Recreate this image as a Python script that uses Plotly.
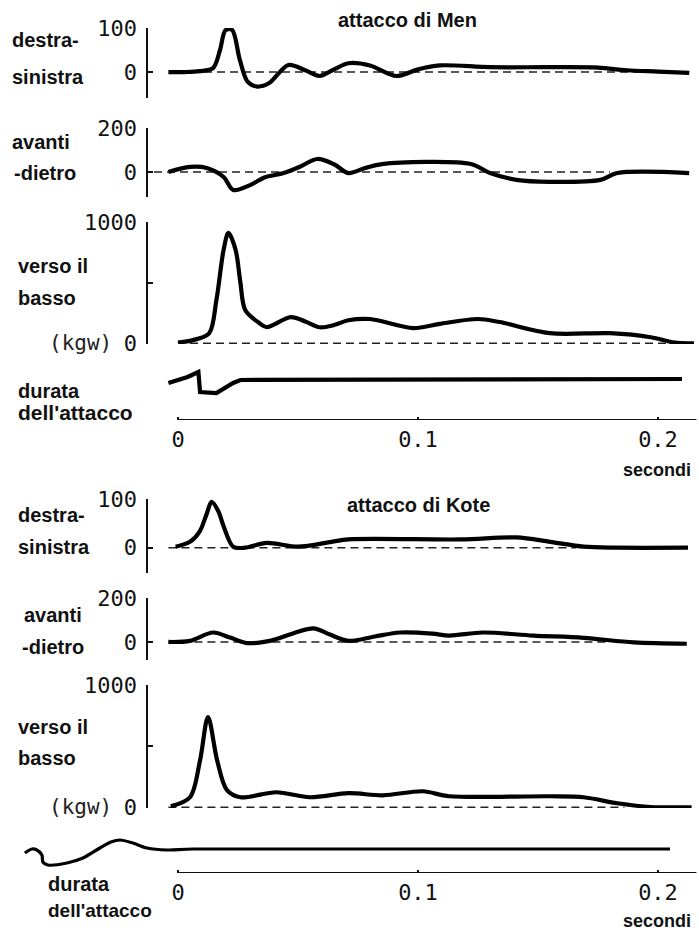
import plotly.graph_objects as go

W, H = 699, 930

# ---------------- data (time in seconds, force in kgw) ----------------
# attacco di Men
men_ds_t = [-0.004, 0.003, 0.009, 0.0146, 0.0175, 0.0198, 0.0225, 0.0258, 0.029, 0.033, 0.038,
            0.046, 0.053, 0.059, 0.065, 0.071, 0.080, 0.091, 0.100, 0.109, 0.130, 0.155, 0.175,
            0.187, 0.200, 0.213]
men_ds_v = [0, 0, 2, 9, 50, 95, 96, 27, -22, -33, -25, 16, 4, -9, 6, 20, 15, -9, 6, 15, 11, 11,
            10, 4, 1, -2]

men_ad_t = [-0.004, 0.005, 0.012, 0.019, 0.023, 0.030, 0.036, 0.044, 0.051, 0.058, 0.065, 0.071,
            0.078, 0.085, 0.122, 0.130, 0.141, 0.155, 0.176, 0.183, 0.213]
men_ad_v = [0, 23, 18, -23, -82, -60, -25, -5, 25, 59, 35, -5, 18, 36, 36, -5, -36, -45, -36, -5, -5]

men_vb_t = [0.000, 0.007, 0.013, 0.016, 0.019, 0.021, 0.024, 0.026, 0.028, 0.034, 0.037, 0.047,
            0.053, 0.059, 0.065, 0.071, 0.080, 0.098, 0.109, 0.125, 0.134, 0.155, 0.180, 0.197,
            0.207, 0.215]
men_vb_v = [5, 30, 83, 355, 770, 910, 770, 500, 275, 165, 133, 215, 180, 132, 150, 190, 200, 125,
            160, 200, 175, 83, 83, 50, 5, 0]

men_dur_t = [-0.004, 0.004, 0.0085, 0.0092, 0.016, 0.023, 0.026, 0.040, 0.210]
men_dur_v = [37, 43, 48, 28, 27, 37, 40, 40, 41]

# attacco di Kote
kote_ds_t = [-0.001, 0.005, 0.009, 0.012, 0.014, 0.0168, 0.019, 0.023, 0.028, 0.037, 0.050,
             0.064, 0.071, 0.118, 0.141, 0.155, 0.169, 0.183, 0.2125]
kote_ds_v = [2, 12, 33, 70, 94, 75, 44, 2, 0, 10, 2, 12, 17, 17, 21, 12, 2, 0, 0]

kote_ad_t = [-0.004, 0.005, 0.0146, 0.0217, 0.0288, 0.0383, 0.0563, 0.063, 0.071, 0.082, 0.0925,
             0.106, 0.113, 0.127, 0.148, 0.169, 0.190, 0.212]
kote_ad_v = [0, 5, 43, 20, -5, 5, 62, 35, 5, 25, 43, 38, 29, 43, 29, 19, -2, -8]

kote_vb_t = [-0.003, 0.005, 0.0092, 0.0125, 0.0163, 0.0204, 0.026, 0.041, 0.055, 0.071, 0.0854,
             0.102, 0.113, 0.155, 0.169, 0.183, 0.197, 0.214]
kote_vb_v = [8, 82, 385, 738, 385, 140, 82, 123, 82, 115, 98, 131, 90, 90, 82, 33, 2, 0]

kote_dur_t = [-0.0638, -0.0608, -0.0588, -0.0567, -0.0563, -0.0542, -0.0463, -0.0396, -0.0325,
              -0.0279, -0.0242, -0.0188, -0.0129, -0.0046, 0.0063, 0.205]
kote_dur_v = [20, 24, 23, 18, 11, 8, 10, 15, 25, 31, 33, 30, 25, 23, 24, 24]

# zero reference (dashed) spans, seconds
men_zero = [(0.000, 0.213), (-0.010, 0.180), (0.005, 0.205)]
kote_zero = [(-0.004, 0.166), (-0.004, 0.180), (-0.004, 0.186)]
baseline_span = (0.0, 0.216)

x_ticks = [0, 0.1, 0.2]
x_tick_text = ["0", "0.1", "0.2"]

# ---------------- layout helpers ----------------
T0_PX, PX_PER_S = 178, 2400


def t_at(px):
    return (px - T0_PX) / PX_PER_S


def ydom(top, bot):
    return [1 - bot / H, 1 - top / H]


NUM_FONT = dict(family="DejaVu Sans Mono", size=22, color="#111")
LAB_FONT = "Liberation Sans"

panels = [
    # Men
    dict(t=men_ds_t, v=men_ds_v, zero=men_zero[0], top=28, bot=98, yr=[-59, 100],
         tv=[100, 0, -59], tt=["100", "0", ""], xl=148),
    dict(t=men_ad_t, v=men_ad_v, zero=men_zero[1], top=128, bot=197, yr=[-114, 200],
         tv=[200, 0, -114], tt=["200", "0", ""], xl=148),
    dict(t=men_vb_t, v=men_vb_v, zero=men_zero[2], top=222, bot=344, yr=[-6, 1000],
         tv=[1000, 500, 0], tt=["1000", "", "0"], xl=148),
    dict(t=men_dur_t, v=men_dur_v, dur=True, top=360, bot=420, yr=[0, 60], xl=148, shape="linear"),
    # Kote
    dict(t=kote_ds_t, v=kote_ds_v, zero=kote_zero[0], top=499, bot=573, yr=[-52, 100],
         tv=[100, 0, -52], tt=["100", "0", ""], xl=148),
    dict(t=kote_ad_t, v=kote_ad_v, zero=kote_zero[1], top=598, bot=660, yr=[-82, 200],
         tv=[200, 0, -82], tt=["200", "0", ""], xl=148),
    dict(t=kote_vb_t, v=kote_vb_v, zero=kote_zero[2], top=685, bot=808, yr=[-6, 1000],
         tv=[1000, 500, 0], tt=["1000", "", "0"], xl=148),
    dict(t=kote_dur_t, v=kote_dur_v, dur=True, top=820, bot=873, yr=[0, 53], xl=18, width=3.2),
]

fig = go.Figure()
layout = dict(width=W, height=H, margin=dict(l=0, r=0, t=0, b=0, pad=0, autoexpand=False),
              paper_bgcolor="white", plot_bgcolor="rgba(0,0,0,0)", showlegend=False)

for i, p in enumerate(panels, start=1):
    xa, ya = f"x{i}", f"y{i}"
    if p.get("dur"):
        fig.add_trace(go.Scatter(x=list(baseline_span), y=[0, 0], xaxis=xa, yaxis=ya,
                                 mode="lines", line=dict(color="#111", width=1.8),
                                 hoverinfo="skip"))
    else:
        fig.add_trace(go.Scatter(x=list(p["zero"]), y=[0, 0], xaxis=xa, yaxis=ya,
                                 mode="lines", line=dict(color="#222", width=1.4, dash="8px,5px"),
                                 hoverinfo="skip"))
    fig.add_trace(go.Scatter(x=p["t"], y=p["v"], xaxis=xa, yaxis=ya, mode="lines",
                             line=dict(color="black", width=p.get("width", 4.2),
                                       shape=p.get("shape", "spline"), smoothing=0.9),
                             hoverinfo="skip"))
    xkey = "xaxis" if i == 1 else f"xaxis{i}"
    ykey = "yaxis" if i == 1 else f"yaxis{i}"
    xdict = dict(domain=[p["xl"] / W, 1.0], range=[t_at(p["xl"]), t_at(W)], anchor=ya,
                 showgrid=False, zeroline=False, showline=False, fixedrange=True,
                 automargin=False)
    if p.get("dur"):
        xdict.update(visible=True, tickvals=x_ticks, ticktext=x_tick_text, ticks="inside",
                     ticklen=3, tickwidth=1.2, tickcolor="#111", tickfont=NUM_FONT,
                     ticklabelstandoff=4)
        ydict = dict(domain=ydom(p["top"], p["bot"]), range=p["yr"], anchor=xa, visible=False,
                     fixedrange=True, automargin=False)
    else:
        xdict.update(visible=False)
        ydict = dict(domain=ydom(p["top"], p["bot"]), range=p["yr"], anchor=xa, showline=True,
                     linecolor="#111", linewidth=2.5, mirror=False, ticks="inside", ticklen=5,
                     tickwidth=2, tickcolor="#111", tickvals=p["tv"], ticktext=p["tt"],
                     tickfont=NUM_FONT, ticklabelstandoff=4, showgrid=False, zeroline=False,
                     fixedrange=True, automargin=False)
    layout[xkey] = xdict
    layout[ykey] = ydict

fig.update_layout(**layout)

# ---------------- text labels ----------------
labels = [
    # text, x(px), y(px), size
    ("destra-", 10, 40, 20), ("sinistra", 10, 77, 20),
    ("avanti", 10, 142, 20), ("-dietro", 12, 173, 20),
    ("verso il", 16, 266, 20), ("basso", 16, 298, 20),
    ("durata", 16, 391, 20), ("dell'attacco", 16, 412, 21),
    ("destra-", 16, 515, 20), ("sinistra", 16, 547, 20),
    ("avanti", 22, 615, 20), ("-dietro", 20, 647, 20),
    ("verso il", 16, 727, 20), ("basso", 16, 758, 20),
    ("durata", 46, 884, 20), ("dell'attacco", 46, 910, 19),
]
for txt, x, y, s in labels:
    fig.add_annotation(text=txt, x=x / W, y=1 - y / H, xref="paper", yref="paper",
                       xanchor="left", yanchor="middle", showarrow=False,
                       font=dict(family=LAB_FONT, size=s, color="#111", weight="bold"))

for y in (343, 807):
    fig.add_annotation(text="(kgw)", x=114 / W, y=1 - y / H, xref="paper", yref="paper",
                       xanchor="right", yanchor="middle", showarrow=False,
                       font=dict(family="DejaVu Sans Mono", size=21, color="#222"))

for txt, cx, cy in (("attacco di Men", 407, 20), ("attacco di Kote", 418, 505)):
    fig.add_annotation(text=txt, x=cx / W, y=1 - cy / H, xref="paper", yref="paper",
                       xanchor="center", yanchor="middle", showarrow=False,
                       font=dict(family=LAB_FONT, size=20, color="#111", weight="bold"))

for cy in (470, 921):
    fig.add_annotation(text="secondi", x=693 / W, y=1 - cy / H, xref="paper", yref="paper",
                       xanchor="right", yanchor="middle", showarrow=False,
                       font=dict(family=LAB_FONT, size=18, color="#111", weight="bold"))

fig.write_html("out.html", config={"displayModeBar": False, "staticPlot": True},
               post_script="document.body.style.margin='0';")
